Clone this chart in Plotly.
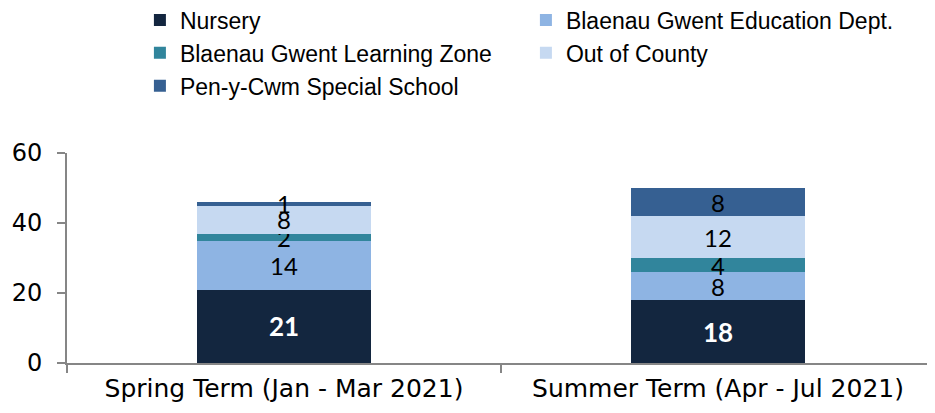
import plotly.graph_objects as go

categories = ["Spring Term (Jan - Mar 2021)", "Summer Term (Apr - Jul 2021)"]
series_names = ["Nursery", "Blaenau Gwent Education Dept.", "Blaenau Gwent Learning Zone",
                "Out of County", "Pen-y-Cwm Special School"]
nursery = [21, 18]
education_dept = [14, 8]
learning_zone = [2, 4]
out_of_county = [8, 12]
pen_y_cwm = [1, 8]
y_ticks = [0, 20, 40, 60]

colors = ["#13263F", "#8EB4E3", "#31859C", "#C6D9F1", "#366092"]
values = [nursery, education_dept, learning_zone, out_of_county, pen_y_cwm]

fig = go.Figure()
for i, (name, vals, col) in enumerate(zip(series_names, values, colors)):
    if i == 0:
        tf = dict(family="Lato", size=26, color="white", weight="bold")
    else:
        tf = dict(family="Lato", size=24, color="black")
    fig.add_trace(go.Bar(
        x=categories, y=vals, name=name, marker=dict(color=col, line=dict(width=0)),
        text=[str(v) for v in vals], textposition="inside", insidetextanchor="middle",
        textangle=0, constraintext="none", textfont=tf, insidetextfont=tf, cliponaxis=False,
        hoverinfo="skip",
    ))

fig.update_layout(
    barmode="stack", bargap=0.6,
    width=927, height=405,
    margin=dict(l=59, r=0, t=145, b=50, autoexpand=False),
    paper_bgcolor="white", plot_bgcolor="white",
    font=dict(family="Lato", color="black"),
    legend=dict(orientation="h", x=0.084, xanchor="left", y=1.736, yanchor="top",
                entrywidth=341, font=dict(family="Liberation Sans", size=23, color="black"),
                traceorder="normal", itemclick=False),
    showlegend=True,
)
fig.update_xaxes(showline=True, linecolor="#868686", linewidth=2, ticks="outside", tickson="boundaries",
                 ticklen=8, tickcolor="#868686", tickwidth=2, ticklabelstandoff=2,
                 tickfont=dict(family="DejaVu Sans", size=25), showgrid=False)
fig.update_yaxes(range=[0, 60], tickvals=y_ticks, showline=True, linecolor="#868686", linewidth=2,
                 ticks="outside", ticklen=8, tickcolor="#868686", tickwidth=2, ticklabelstandoff=10,
                 tickfont=dict(family="DejaVu Sans", size=24), showgrid=False, zeroline=False)

fig.write_html("out.html")
